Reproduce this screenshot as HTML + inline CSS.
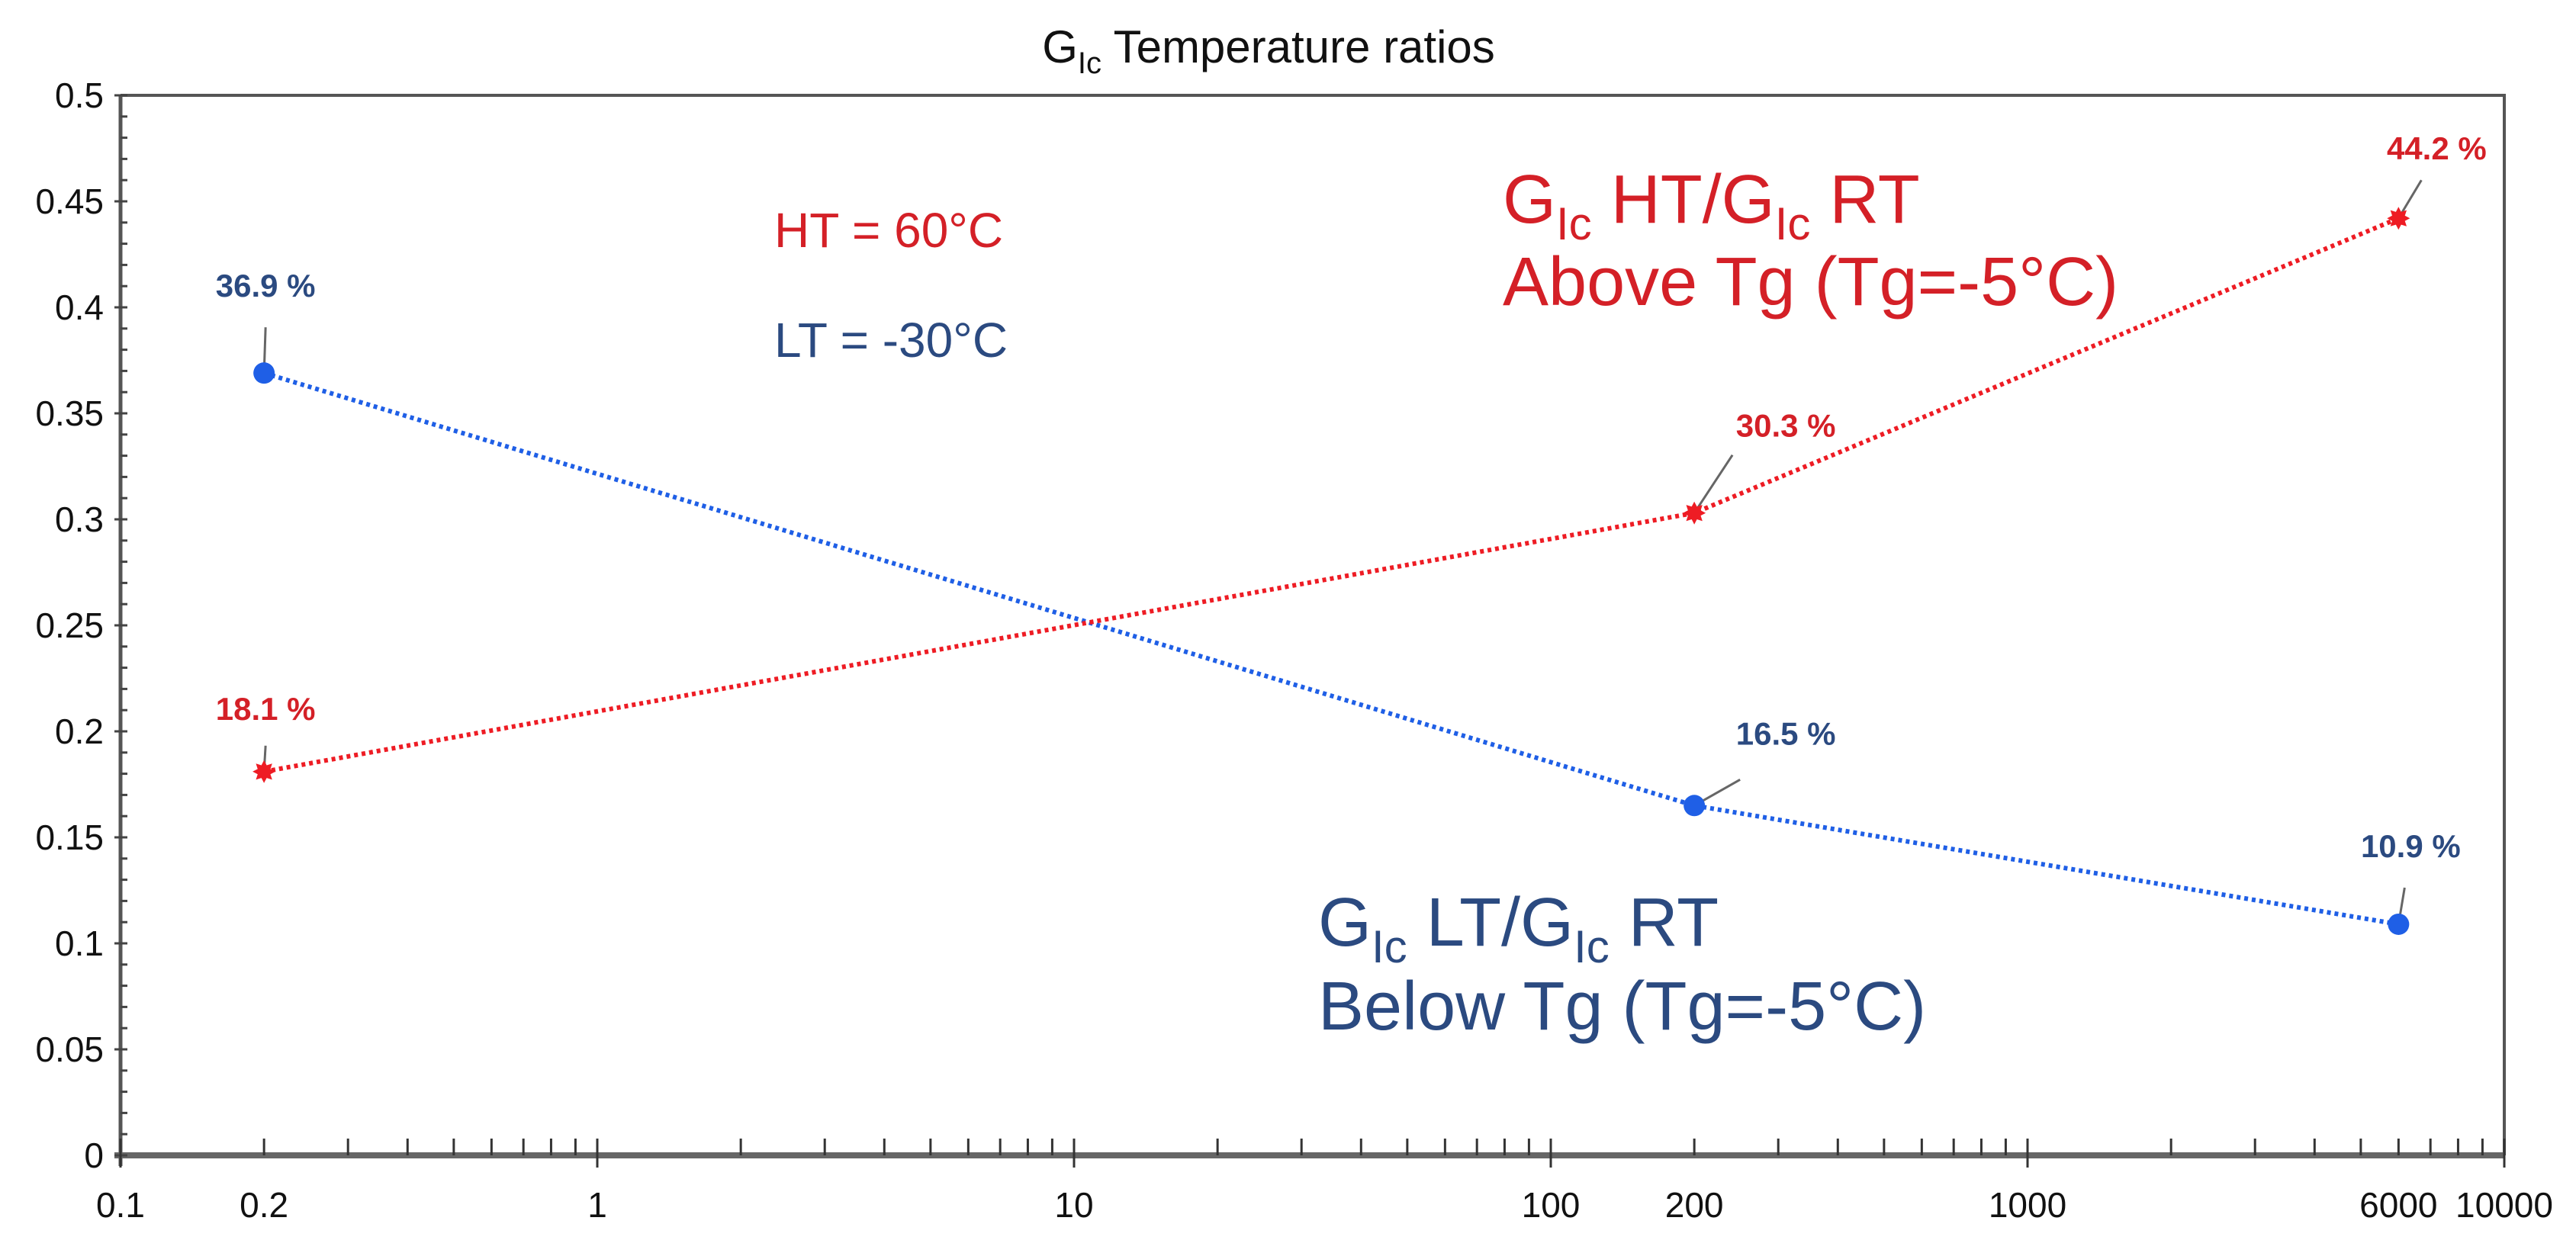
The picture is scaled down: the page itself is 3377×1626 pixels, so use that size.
<!DOCTYPE html>
<html><head><meta charset="utf-8"><style>
html,body{margin:0;padding:0;background:#fff;}
svg{display:block;}
text{font-family:"Liberation Sans",sans-serif;}
</style></head><body>
<svg id="chart" width="3377" height="1626" viewBox="0 0 3377 1626" xmlns="http://www.w3.org/2000/svg">
<text x="1663" y="82" text-anchor="middle" font-size="60" fill="#111">G<tspan font-size="40" dy="14">Ic</tspan><tspan dy="-14"> Temperature ratios</tspan></text>
<g id="axes"></g>
<g id="series"></g>
<text x="1015" y="324" font-size="64" fill="#d42027">HT = 60°C</text>
<text x="1015" y="468" font-size="64" fill="#2b4a80">LT = -30°C</text>
<text x="1970" y="292" font-size="90" fill="#d42027">G<tspan font-size="60" dy="22">Ic</tspan><tspan dy="-22"> HT/G</tspan><tspan font-size="60" dy="22">Ic</tspan><tspan dy="-22"> RT</tspan></text>
<text x="1970" y="400" font-size="90" fill="#d42027">Above Tg (Tg=-5°C)</text>
<text x="1728" y="1240" font-size="90" fill="#2b4a80">G<tspan font-size="60" dy="22">Ic</tspan><tspan dy="-22"> LT/G</tspan><tspan font-size="60" dy="22">Ic</tspan><tspan dy="-22"> RT</tspan></text>
<text x="1728" y="1350" font-size="90" fill="#2b4a80">Below Tg (Tg=-5°C)</text>
</svg>
<script>
const xValues=[0.2,200,6000];
const blueValues=[0.369,0.165,0.109];
const redValues=[0.181,0.303,0.442];
const blueLabels=["36.9 %","16.5 %","10.9 %"];
const redLabels=["18.1 %","30.3 %","44.2 %"];
const yTicks=[0,0.05,0.1,0.15,0.2,0.25,0.3,0.35,0.4,0.45,0.5];
const yTickLabels=["0","0.05","0.1","0.15","0.2","0.25","0.3","0.35","0.4","0.45","0.5"];
const xTicks=[0.1,0.2,1,10,100,200,1000,6000,10000];
const xTickLabels=["0.1","0.2","1","10","100","200","1000","6000","10000"];

const NS="http://www.w3.org/2000/svg";
const L=158,R=3283,T=125,B=1515;
function X(v){return L+(Math.log10(v)+1)/5*(R-L);}
function Y(v){return B-v/0.5*(B-T);}
function mk(tag,attrs,parent){const e=document.createElementNS(NS,tag);for(const k in attrs)e.setAttribute(k,attrs[k]);parent.appendChild(e);return e;}
const ax=document.getElementById('axes');
const sr=document.getElementById('series');

let f=mk('path',{d:`M${L},${T} H${R} V${B}`,fill:'none',stroke:'#555','stroke-width':4},ax);


let ya=mk('line',{x1:L,y1:T,x2:L,y2:B+14,stroke:'#555','stroke-width':5},ax);


let xa=mk('line',{x1:L-8,y1:B,x2:R,y2:B,stroke:'#666','stroke-width':8},ax);


for(let i=0;i<=50;i++){const v=i*0.01;if(i%5===0)continue;
 let t=mk('line',{x1:L,y1:Y(v),x2:L+9,y2:Y(v),stroke:'#444','stroke-width':3},ax);
 
 }
yTicks.forEach((v,i)=>{
 let t=mk('line',{x1:L-8,y1:Y(v),x2:L+9,y2:Y(v),stroke:'#444','stroke-width':3},ax);
 
 
 let tx=mk('text',{x:136,y:Y(v)+16,'text-anchor':'end','font-size':46,fill:'#111'},ax);
 tx.textContent=yTickLabels[i];
 
 
});
for(let d=-1;d<4;d++){for(let m=2;m<=9;m++){const v=m*Math.pow(10,d);
 let t=mk('line',{x1:X(v),y1:B,x2:X(v),y2:B-22,stroke:'#333','stroke-width':3},ax);
 
 }}
for(let d=-1;d<=4;d++){const v=Math.pow(10,d);
 let t=mk('line',{x1:X(v),y1:B-22,x2:X(v),y2:B+16,stroke:'#333','stroke-width':3},ax);
 
 }
xTicks.forEach((v,i)=>{
 let tx=mk('text',{x:X(v),y:1596,'text-anchor':'middle','font-size':46,fill:'#111'},ax);
 tx.textContent=xTickLabels[i];
 
 
});

function series(vals,labels,lineCol,txtCol,name,offs,star){
 const pts=vals.map((v,i)=>X(xValues[i])+','+Y(v)).join(' ');
 let pl=mk('polyline',{points:pts,fill:'none',stroke:lineCol,'stroke-width':6,'stroke-dasharray':'5 5'},sr);
 
 
 vals.forEach((v,i)=>{
  const cx=X(xValues[i]),cy=Y(v),o=offs[i];
  let ld=mk('line',{x1:cx,y1:cy,x2:cx+o[2],y2:cy+o[3],stroke:'#666','stroke-width':3},sr);
  
  
  let p;
  if(star){p=mk('polygon',{points:starPts(cx,cy,15,9),fill:lineCol},sr);}
  else{p=mk('circle',{cx:cx,cy:cy,r:14,fill:lineCol},sr);}
  
  
  let tx=mk('text',{x:cx+o[0],y:cy+o[1],'text-anchor':'middle','font-size':42,'font-weight':'bold',fill:txtCol},sr);
  tx.textContent=labels[i];
  
  
 });
}
function starPts(cx,cy,r1,r2){let a=[];for(let k=0;k<16;k++){const r=k%2?r2:r1,t=k*Math.PI/8;a.push((cx+r*Math.sin(t)).toFixed(1)+','+(cy-r*Math.cos(t)).toFixed(1));}return a.join(' ');}
series(blueValues,blueLabels,'#1f5fe6','#2b4a80','lt-ratio',[[2,-100,2,-60],[120,-80,60,-34],[16,-88,8,-48]],false);
series(redValues,redLabels,'#ee1c24','#d42027','ht-ratio',[[2,-68,2,-34],[120,-100,50,-76],[50,-77,30,-50]],true);
</script>
</body></html>
